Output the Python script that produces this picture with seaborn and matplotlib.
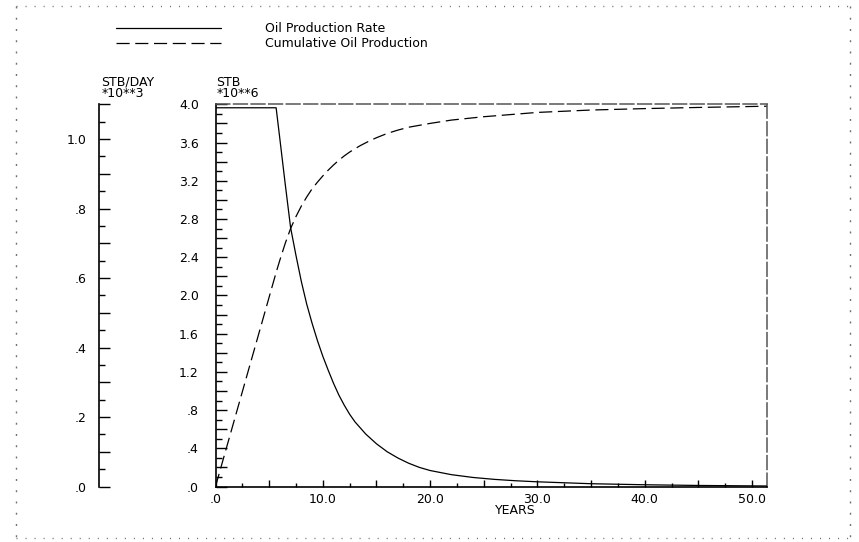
import numpy as np
import pandas as pd
import matplotlib
matplotlib.use("Agg")
import matplotlib.pyplot as plt
import seaborn as sns
from matplotlib.ticker import MultipleLocator, FuncFormatter
from matplotlib.lines import Line2D

# ---- data ----
rate_years = [0, 5.65, 6.0, 6.5, 7.0, 7.5, 8.0, 8.5, 9.0, 9.5, 10.0, 10.5, 11.0, 11.5,
              12.0, 12.5, 13.0, 14.0, 15.0, 16.0, 17.0, 18.0, 19.0, 20.0, 22.0, 24.0,
              26.0, 28.0, 30.0, 35.0, 40.0, 45.0, 51.4]
rate_stb_day_k = [1.09, 1.09, 1.00, 0.87, 0.745, 0.665, 0.59, 0.525, 0.47, 0.42, 0.375,
                  0.335, 0.297, 0.263, 0.234, 0.208, 0.186, 0.151, 0.123, 0.100, 0.082,
                  0.067, 0.055, 0.046, 0.034, 0.026, 0.0205, 0.0165, 0.0135, 0.008,
                  0.005, 0.003, 0.0015]
cum_years = [0, 5.65, 6.0, 6.5, 7.0, 7.5, 8.0, 8.5, 9.0, 9.5, 10.0, 10.5, 11.0, 11.5,
             12.0, 12.5, 13.0, 13.5, 14.0, 14.5, 15.0, 16.0, 17.0, 18.0, 20.0, 22.0,
             25.0, 30.0, 35.0, 40.0, 45.0, 51.4]
cum_stb_m = [0, 2.24, 2.37, 2.545, 2.70, 2.825, 2.935, 3.03, 3.115, 3.185, 3.25, 3.31,
             3.365, 3.415, 3.46, 3.50, 3.535, 3.568, 3.597, 3.625, 3.65, 3.695, 3.73,
             3.76, 3.80, 3.835, 3.87, 3.915, 3.94, 3.955, 3.967, 3.98]
series_labels = ["Oil Production Rate", "Cumulative Oil Production"]

df_rate = pd.DataFrame({"years": rate_years, "rate": rate_stb_day_k})
df_cum = pd.DataFrame({"years": cum_years, "cum": cum_stb_m})

sns.set_style("ticks")
plt.rcParams["font.family"] = ["DejaVu Sans"]
plt.rcParams["text.color"] = "black"
plt.rcParams["xtick.color"] = "black"
plt.rcParams["ytick.color"] = "black"
plt.rcParams["xtick.labelcolor"] = "black"
plt.rcParams["ytick.labelcolor"] = "black"
FS = 9

W, H = 859, 542
fig = plt.figure(figsize=(W / 100, H / 100), dpi=100)
fx = lambda px: px / W
fy = lambda py: 1 - py / H

x0, x1, y0, y1 = 215.5, 767.0, 104.3, 486.5
ax = fig.add_axes([fx(x0), fy(y1), fx(x1) - fx(x0), fy(y0) - fy(y1)])
ax2 = ax.twinx()

sns.lineplot(data=df_cum, x="years", y="cum", ax=ax, color="black", lw=0.9,
             linestyle=(0, (10.5, 4.5)), label=series_labels[1], legend=False)
sns.lineplot(data=df_rate, x="years", y="rate", ax=ax2, color="black", lw=0.9,
             label=series_labels[0], legend=False)

ax.set_xlim(0, 51.4)
ax.set_ylim(0, 4.0)
ax2.set_ylim(0, 1.1)
for a in (ax, ax2):
    a.set_xlabel("")
    a.set_ylabel("")

# spines
for s in ("left", "bottom"):
    ax.spines[s].set_color("black")
    ax.spines[s].set_linewidth(1.2)
for s in ("top", "right"):
    ax.spines[s].set_visible(True)
    ax.spines[s].set_color("#555555")
    ax.spines[s].set_linewidth(1.1)
    ax.spines[s].set_linestyle((0, (9, 2.5)))
for s in ("top", "right", "bottom"):
    ax2.spines[s].set_visible(False)
ax2.spines["left"].set_visible(True)
ax2.spines["left"].set_color("black")
ax2.spines["left"].set_linewidth(1.2)
ax2.spines["left"].set_position(("axes", (99.5 - x0) / (x1 - x0)))
ax2.yaxis.tick_left()


def lab(v):
    s = f"{v:.1f}"
    if s.startswith("0."):
        s = s[1:]
    if s == "-.0":
        s = ".0"
    return s


def every(step):
    def f(v, pos):
        k = v / step
        return lab(v) if abs(k - round(k)) < 1e-6 else ""
    return FuncFormatter(f)


# x axis
ax.xaxis.set_major_locator(MultipleLocator(5))
ax.xaxis.set_minor_locator(MultipleLocator(2.5))
ax.xaxis.set_major_formatter(every(10))
ax.tick_params(axis="x", which="major", direction="in", length=5, width=1, pad=5.0,
               labelsize=FS, colors="black")
ax.tick_params(axis="x", which="minor", direction="in", length=3, width=1, colors="black")

# STB axis
ax.yaxis.set_major_locator(MultipleLocator(0.2))
ax.yaxis.set_minor_locator(MultipleLocator(0.1))
ax.yaxis.set_major_formatter(every(0.4))
ax.tick_params(axis="y", which="major", direction="in", length=8, width=1, pad=12,
               labelsize=FS, colors="black", left=True, right=False)
ax.tick_params(axis="y", which="minor", direction="in", length=4.3, width=1,
               colors="black", left=True, right=False)

# rate axis
ax2.yaxis.set_major_locator(MultipleLocator(0.1))
ax2.yaxis.set_minor_locator(MultipleLocator(0.05))
ax2.yaxis.set_major_formatter(every(0.2))
ax2.tick_params(axis="y", which="major", direction="in", length=8, width=1, pad=9,
                labelsize=FS, colors="black", left=True, right=False,
                labelleft=True, labelright=False)
ax2.tick_params(axis="y", which="minor", direction="in", length=4.3, width=1,
                colors="black", left=True, right=False)

# axis header texts
fig.text(fx(101), fy(82), "STB/DAY", ha="left", va="center", fontsize=FS)
fig.text(fx(101.5), fy(93.5), "*10**3", ha="left", va="center", fontsize=FS)
fig.text(fx(216.5), fy(82), "STB", ha="left", va="center", fontsize=FS)
fig.text(fx(216.5), fy(93.5), "*10**6", ha="left", va="center", fontsize=FS)
fig.text(fx(515), fy(510), "YEARS", ha="center", va="center", fontsize=FS)

# legend
h_rate = ax2.get_lines()[0]
h_cum = ax.get_lines()[0]
fs_px = FS * 100 / 72
leg = ax2.legend([h_rate, h_cum], series_labels, loc="upper left",
                 bbox_to_anchor=(fx(116), fy(22.5)), bbox_transform=fig.transFigure,
                 frameon=False, fontsize=FS, handlelength=104.7 / fs_px,
                 handletextpad=44 / fs_px, labelspacing=0.12, borderpad=0,
                 borderaxespad=0, handleheight=0.6)
for t in leg.get_texts():
    t.set_color("black")

# dotted page border
bl, br, bt, bb = 16, 849.5, 6, 538
fig.add_artist(Line2D([fx(bl), fx(br)], [fy(bt), fy(bt)], transform=fig.transFigure,
                      color="#707070", lw=1.0, ls=(0, (0.75, 5.75))))
fig.add_artist(Line2D([fx(bl), fx(br)], [fy(bb), fy(bb)], transform=fig.transFigure,
                      color="#707070", lw=1.0, ls=(0, (0.75, 5.75))))
fig.add_artist(Line2D([fx(bl), fx(bl)], [fy(bt), fy(bb)], transform=fig.transFigure,
                      color="#707070", lw=1.0, ls=(0, (1.4, 6.7))))
fig.add_artist(Line2D([fx(br), fx(br)], [fy(bt), fy(bb)], transform=fig.transFigure,
                      color="#707070", lw=1.0, ls=(0, (1.4, 6.7))))

fig.savefig("out.png", dpi=100)
